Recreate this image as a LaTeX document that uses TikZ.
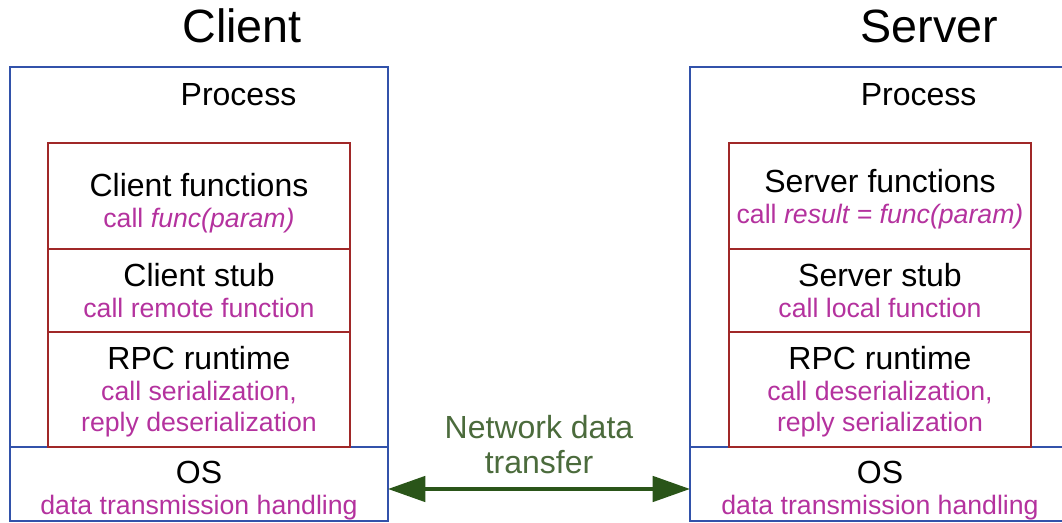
\documentclass[tikz,border=0pt]{standalone}
\usepackage{fontspec}
\setmainfont{Liberation Sans}
\usepackage{tikz}
\usetikzlibrary{arrows.meta,positioning}

\definecolor{procblue}{HTML}{3252AA}
\definecolor{stackred}{HTML}{A02828}
\definecolor{callpink}{HTML}{B4329E}
\definecolor{netgreen}{HTML}{2A5519}
\definecolor{nettextgreen}{HTML}{4B6B3C}

\newcommand{\calltext}[1]{{\color{callpink}\fontsize{20}{23.25}\selectfont #1}}
\newcommand{\topgap}[1]{\rule{0pt}{#1}}

\tikzset{
    proc/.style={rectangle, draw=procblue, line width=1.6pt,
        minimum width=283.5pt, inner sep=0pt, outer sep=0pt},
    layer/.style={rectangle, draw=stackred, line width=1.6pt,
        minimum width=226.5pt, inner sep=0pt, outer sep=0pt, align=center,
        font=\fontsize{24}{23.25}\selectfont},
    os/.style={proc, minimum height=55.5pt, align=center,
        font=\fontsize{24}{23.25}\selectfont},
    title/.style={anchor=base, font=\fontsize{35}{40}\selectfont},
    proclabel/.style={anchor=base, font=\fontsize{24}{28}\selectfont},
    netarrow/.style={{Triangle[length=28pt,width=19pt]}-{Triangle[length=28pt,width=19pt]},
        draw=netgreen, fill=netgreen, line width=2.8pt},
    nettext/.style={align=center, text=nettextgreen,
        font=\fontsize{24}{26.25}\selectfont}
}

\begin{document}
\begin{tikzpicture}[x=1pt,y=1pt]
    \useasboundingbox (0,0) rectangle (796.5,392.25);

    % client side
    \node[title] (ctitle) at (181.5,360) {Client};
    \node[os] (cos) at (149.25,29.25) {\topgap{26.5pt}OS\\ \calltext{data transmission handling}};
    \node[proc, minimum height=285pt] (cproc) [above=0pt of cos] {};
    \node[proclabel] (cplabel) at ([xshift=29.6pt,yshift=-29.25pt]cproc.north) {Process};
    \node[layer, minimum height=86.25pt] (crt) [above=0pt of cos]
        {\topgap{20.5pt}RPC runtime\\ \calltext{call serialization,}\\ \calltext{reply deserialization}};
    \node[layer, minimum height=62.25pt] (cstub) [above=0pt of crt]
        {Client stub\\ \calltext{call remote function}};
    \node[layer, minimum height=79.5pt] (cfun) [above=0pt of cstub]
        {\topgap{28pt}Client functions\\ \calltext{call \textit{func(param)}}};

    % server side (its right edge runs off the picture)
    \node[title] (stitle) at (697,360) {Server};
    \node[os, minimum width=285pt] (sos) at (660,29.25) {\topgap{26.5pt}OS\\ \calltext{data transmission handling}};
    \node[proc, minimum width=285pt, minimum height=285pt] (sproc) [above=0pt of sos] {};
    \node[proclabel] (splabel) at ([xshift=28.9pt,yshift=-29.25pt]sproc.north) {Process};
    \node[layer, minimum height=86.25pt] (srt) [above=0pt of sos]
        {\topgap{20.5pt}RPC runtime\\ \calltext{call deserialization,}\\ \calltext{reply serialization}};
    \node[layer, minimum height=62.25pt] (sstub) [above=0pt of srt]
        {Server stub\\ \calltext{call local function}};
    \node[layer, minimum height=79.5pt] (sfun) [above=0pt of sstub]
        {\topgap{22pt}Server functions\\ \calltext{call \textit{result = func(param)}}};

    % network
    \node[nettext] (net) at (404.25,58.9) {Network data\\ transfer};
    \draw[netarrow] ([yshift=-3.75pt]cos.east) -- ([yshift=-3.75pt]sos.west);
\end{tikzpicture}
\end{document}
